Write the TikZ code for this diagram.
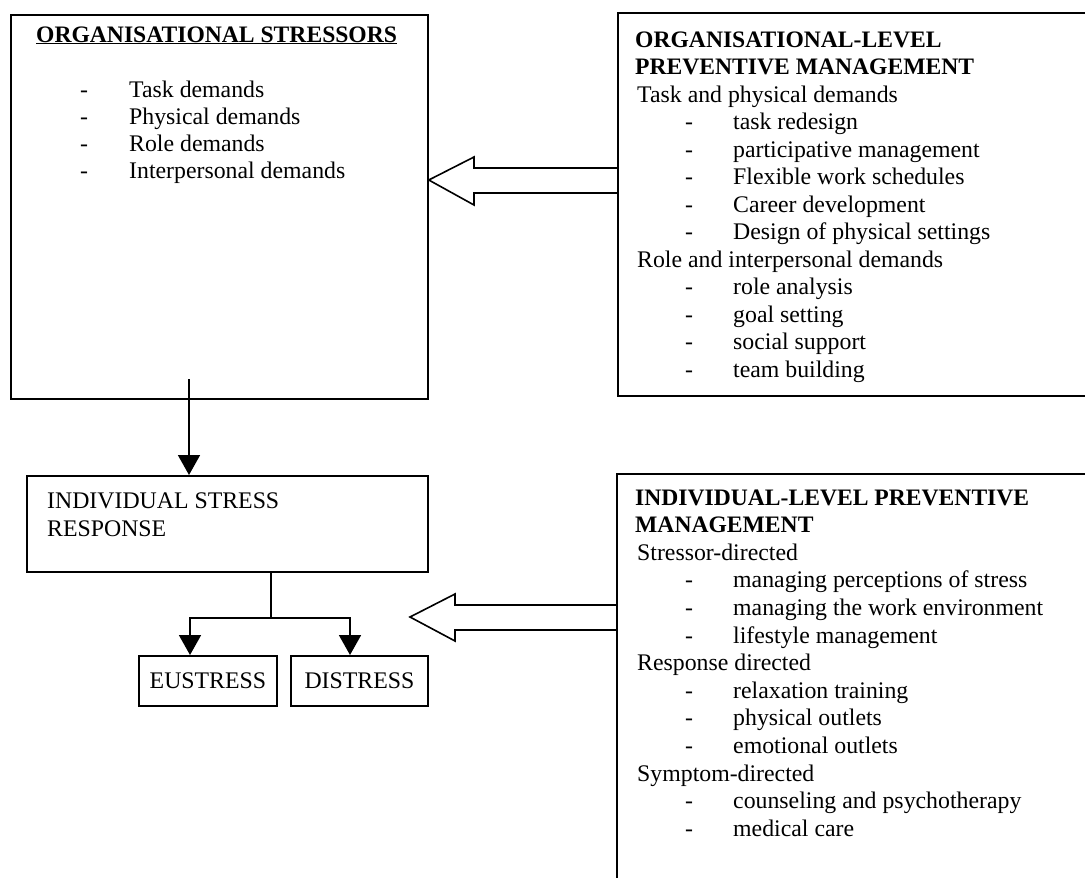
\documentclass[tikz,border=0pt]{standalone}
\usepackage{fontspec}
\setmainfont{Liberation Serif}
\usetikzlibrary{arrows.meta}
\begin{document}
\begin{tikzpicture}[x=1pt,y=-1pt,
  box/.style={draw, line width=1.8pt, anchor=north west, inner sep=0pt},
  txt/.style={anchor=base west, inner sep=0pt, font=\fontsize{23.8}{27.5}\selectfont},
  hd/.style={txt, font=\fontsize{23.6}{27.5}\selectfont\bfseries},
  link/.style={line width=1.8pt},
  tip/.style={-{Triangle[length=20pt,width=22pt]}},
  hollow/.style={line width=1.6pt, line join=miter}]
\clip (0,0) rectangle (1085,878);

% boxes
\node[box, minimum width=417pt, minimum height=384pt] (stress) at (10,14) {};
\node[box, minimum width=500pt, minimum height=383pt] (orgprev) at (617,12) {};
\node[box, minimum width=401pt, minimum height=96pt] (isr) at (26,475) {};
\node[box, minimum width=138pt, minimum height=50pt] (eu) at (138,655) {};
\node[box, minimum width=137pt, minimum height=50pt] (dis) at (290,655) {};
\node[box, minimum width=500pt, minimum height=450pt] (indprev) at (616,473) {};

% organisational stressors
\node[hd] (s-h) at (36,42) {\underline{ORGANISATIONAL STRESSORS}};
\foreach \t [count=\i from 0] in {Task demands, Physical demands, Role demands, Interpersonal demands}{
  \node[txt] (s-d\i) at (80,97+27*\i) {-};
  \node[txt] (s-t\i) at (129,97+27*\i) {\t};
}

% organisational-level preventive management
\node[hd] (o-h1) at (635,47) {ORGANISATIONAL-LEVEL};
\node[hd] (o-h2) at (635,74.5) {PREVENTIVE MANAGEMENT};
\node[txt] (o-g1) at (637,102) {Task and physical demands};
\foreach \t [count=\i from 0] in {task redesign, participative management, Flexible work schedules, Career development, Design of physical settings}{
  \node[txt] (o-d\i) at (685,129.5+27.5*\i) {-};
  \node[txt] (o-t\i) at (733,129.5+27.5*\i) {\t};
}
\node[txt] (o-g2) at (637,267) {Role and interpersonal demands};
\foreach \t [count=\i from 0] in {role analysis, goal setting, social support, team building}{
  \node[txt] (o-e\i) at (685,294.5+27.5*\i) {-};
  \node[txt] (o-u\i) at (733,294.5+27.5*\i) {\t};
}

% individual stress response and outcomes
\node[txt] (r-1) at (47,508) {INDIVIDUAL STRESS};
\node[txt] (r-2) at (47,536) {RESPONSE};
\node[txt, anchor=center] (eu-t) at (eu.center) {EUSTRESS};
\node[txt, anchor=center] (dis-t) at (dis.center) {DISTRESS};

% individual-level preventive management
\node[hd] (i-h1) at (635,505) {INDIVIDUAL-LEVEL PREVENTIVE};
\node[hd] (i-h2) at (635,532.6) {MANAGEMENT};
\node[txt] (i-g1) at (637,560.2) {Stressor-directed};
\foreach \t [count=\i from 0] in {managing perceptions of stress, managing the work environment, lifestyle management}{
  \node[txt] (i-d\i) at (685,587.8+27.6*\i) {-};
  \node[txt] (i-t\i) at (733,587.8+27.6*\i) {\t};
}
\node[txt] (i-g2) at (637,670.6) {Response directed};
\foreach \t [count=\i from 0] in {relaxation training, physical outlets, emotional outlets}{
  \node[txt] (i-e\i) at (685,698.2+27.6*\i) {-};
  \node[txt] (i-u\i) at (733,698.2+27.6*\i) {\t};
}
\node[txt] (i-g3) at (637,781) {Symptom-directed};
\foreach \t [count=\i from 0] in {counseling and psychotherapy, medical care}{
  \node[txt] (i-f\i) at (685,808.6+27.6*\i) {-};
  \node[txt] (i-v\i) at (733,808.6+27.6*\i) {\t};
}

% connectors
\coordinate (down) at (189,379);
\draw[link, tip] (down) -- (down |- isr.north);
\coordinate (split) at (271,618);
\draw[link] (split |- isr.south) -- (split);
\draw[link, tip] (split) -| (eu.north -| 190,0);
\draw[link, tip] (split) -| (dis.north -| 350,0);

% hollow arrows from the preventive management boxes
\draw[hollow] (orgprev.west |- 0,168) -- (474,168) -- (474,157) -- (stress.east |- 0,180)
  -- (474,205) -- (474,193) -- (orgprev.west |- 0,193);
\draw[hollow] (indprev.west |- 0,605) -- (455,605) -- (455,594) -- (410,617)
  -- (455,641) -- (455,630) -- (indprev.west |- 0,630);
\end{tikzpicture}
\end{document}
